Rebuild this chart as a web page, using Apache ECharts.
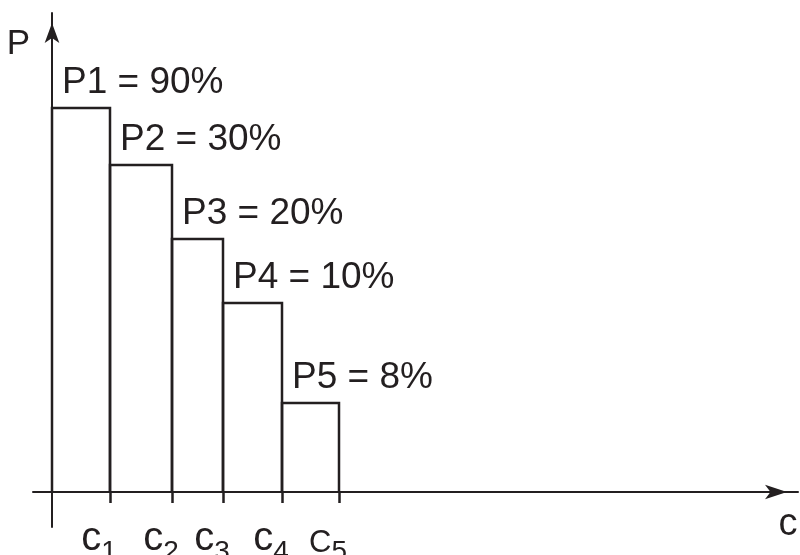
<!DOCTYPE html>
<html>
<head>
<meta charset="utf-8">
<script src="https://cdn.jsdelivr.net/npm/echarts@6/dist/echarts.min.js"></script>
<style>html,body{margin:0;padding:0;background:#fff}#c{width:800px;height:555px}</style>
</head>
<body>
<div id="c"></div>
<script>
// Bar edges (c1..c5) along the c axis, and the schematic bar heights as drawn
var edges = [0, 58, 120, 171, 230, 287];
var heights = [384, 327, 253, 189, 89];
var barLabels = ['P1 = 90%', 'P2 = 30%', 'P3 = 20%', 'P4 = 10%', 'P5 = 8%'];
var tickLetters = ['c', 'c', 'c', 'c', 'C'];
var tickSubs = ['1', '2', '3', '4', '5'];
var tickValues = edges.slice(1);

var INK = '#231f20';
var FONT = '"Liberation Sans", Arial, sans-serif';

var data = heights.map(function (h, i) {
  return [edges[i], edges[i + 1], h, i];
});

var chart = echarts.init(document.getElementById('c'), null, {renderer: 'canvas'});
chart.setOption({
  animation: false,
  backgroundColor: '#fff',
  grid: {left: 33, right: 2, top: 13, bottom: 28, containLabel: false, outerBoundsMode: 'none'},
  xAxis: {
    type: 'value',
    min: -19, max: 746,
    name: 'c',
    nameLocation: 'end',
    nameGap: -10,
    nameTextStyle: {fontFamily: FONT, fontSize: 38, color: INK, align: 'center', verticalAlign: 'top', padding: [14, 0, 0, 0]},
    axisLine: {show: true, onZero: true, symbol: ['none', 'arrow'], symbolSize: [11, 22], symbolOffset: [0, -11], lineStyle: {color: INK, width: 2}},
    axisTick: {show: true, customValues: tickValues, length: 11, inside: false, lineStyle: {color: INK, width: 2.5}},
    axisLabel: {
      show: true,
      customValues: tickValues,
      margin: -1,
      padding: [0, 22, 0, 0],
      formatter: function (v) {
        var i = tickValues.indexOf(v);
        var key = tickLetters[i] === 'C' ? 'C' : 'c';
        return '{' + key + '|' + tickLetters[i] + '}{s|' + tickSubs[i] + '}';
      },
      rich: {
        c: {fontFamily: FONT, fontSize: 40, color: INK, verticalAlign: 'bottom', lineHeight: 40, padding: [0, 0, 7, 0]},
        C: {fontFamily: FONT, fontSize: 31, color: INK, verticalAlign: 'bottom', lineHeight: 40, padding: [0, 0, 7, 0]},
        s: {fontFamily: FONT, fontSize: 28, color: INK, verticalAlign: 'bottom', lineHeight: 28}
      }
    },
    splitLine: {show: false}
  },
  yAxis: {
    type: 'value',
    min: -35, max: 479,
    name: 'P',
    nameLocation: 'end',
    nameGap: -31,
    nameTextStyle: {fontFamily: FONT, fontSize: 35, color: INK, align: 'right', verticalAlign: 'middle', padding: [0, 22, 0, 0]},
    axisLine: {show: true, onZero: true, symbol: ['none', 'arrow'], symbolSize: [11, 20], symbolOffset: [0, -10], lineStyle: {color: INK, width: 2}},
    axisTick: {show: false},
    axisLabel: {show: false},
    splitLine: {show: false}
  },
  series: [{
    type: 'custom',
    clip: false,
    data: data,
    encode: {x: [0, 1], y: 2},
    renderItem: function (params, api) {
      var x0 = api.value(0), x1 = api.value(1), h = api.value(2), idx = api.value(3);
      var pBL = api.coord([x0, 0]);
      var pTL = api.coord([x0, h]);
      var pTR = api.coord([x1, h]);
      var pBR = api.coord([x1, 0]);
      return {
        type: 'group',
        children: [{
          type: 'polyline',
          shape: {points: [pBL, pTL, pTR, pBR]},
          style: {stroke: INK, lineWidth: 2.5, fill: null, lineJoin: 'miter'}
        }, {
          type: 'text',
          style: {
            text: barLabels[idx],
            x: pTL[0] + 10,
            y: pTL[1] - 7,
            font: '37px ' + FONT,
            fill: INK,
            align: 'left',
            verticalAlign: 'bottom'
          }
        }]
      };
    }
  }]
});
</script>
</body>
</html>
